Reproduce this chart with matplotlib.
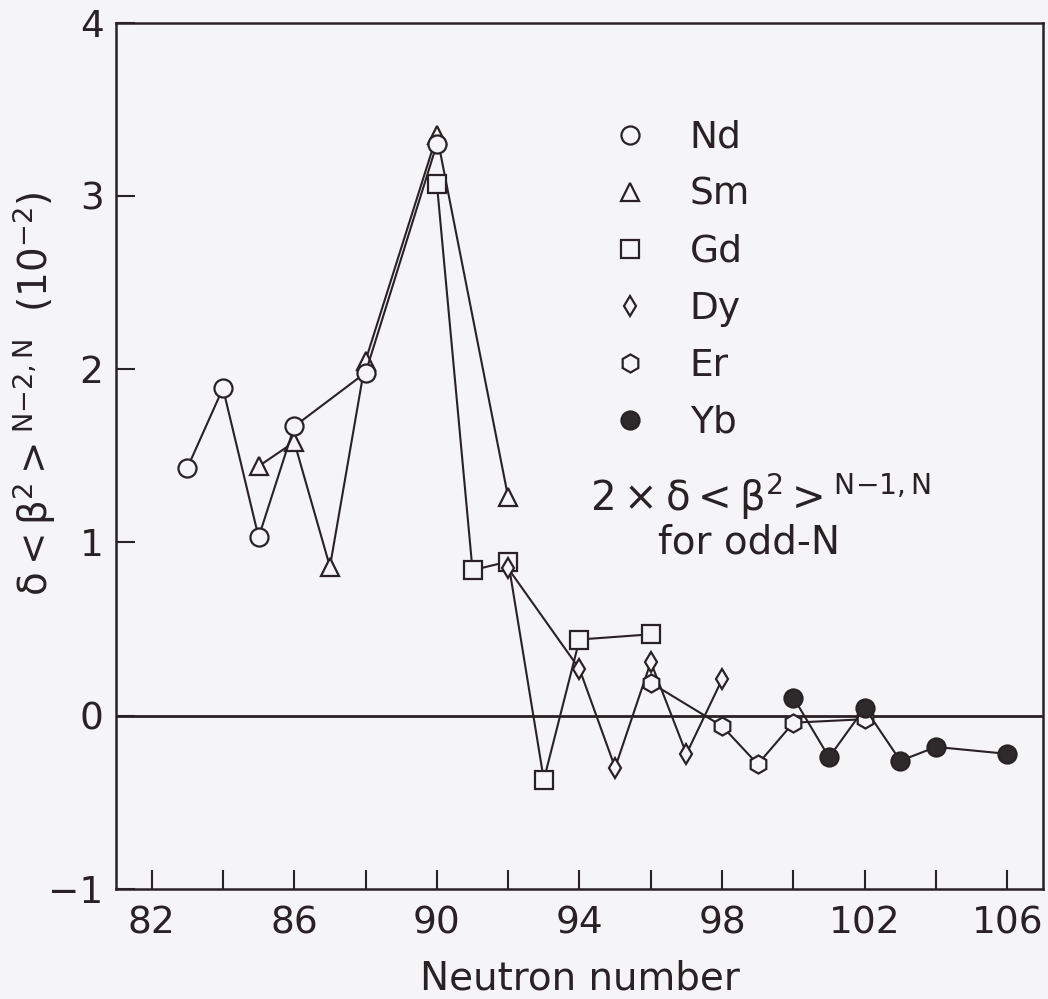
import matplotlib
matplotlib.use("Agg")
import matplotlib.pyplot as plt
from matplotlib.lines import Line2D

# odd-even staggering data (units of 1e-2)
nd_n = [83, 84, 85, 86, 88, 90]
nd_v = [1.43, 1.89, 1.03, 1.67, 1.98, 3.30]

sm_n = [85, 86, 87, 88, 90, 92]
sm_v = [1.44, 1.58, 0.86, 2.05, 3.35, 1.26]

gd_n = [90, 91, 92, 93, 94, 96]
gd_v = [3.07, 0.84, 0.89, -0.37, 0.44, 0.47]

dy_n = [92, 94, 95, 96, 97, 98]
dy_v = [0.85, 0.27, -0.30, 0.31, -0.22, 0.21]

er_n = [96, 98, 99, 100, 102]
er_v = [0.19, -0.06, -0.28, -0.04, -0.02]

yb_n = [100, 101, 102, 103, 104, 106]
yb_v = [0.105, -0.24, 0.045, -0.26, -0.18, -0.22]

x_ticks = list(range(82, 107, 2))
x_ticklabels = [str(n) if (n - 82) % 4 == 0 else "" for n in x_ticks]
y_ticks = [-1, 0, 1, 2, 3, 4]
y_ticklabels = ["\u22121", "0", "1", "2", "3", "4"]

ink = "#2a2125"
paper = "#f5f4f6"

plt.rcParams["font.family"] = ["DejaVu Sans"]
plt.rcParams["mathtext.fontset"] = "dejavusans"
plt.rcParams["mathtext.default"] = "rm"

fig = plt.figure(figsize=(10.48, 9.99), dpi=100, facecolor=paper)
ax = fig.add_axes([0.1107, 0.1101, 0.8845, 0.8672])
ax.set_facecolor(paper)

# marker, size, face colour (drawn in this order so overlaps look like the scan)
series = [
    ("Sm", sm_n, sm_v, "^", 13, paper),
    ("Nd", nd_n, nd_v, "o", 13, paper),
    ("Gd", gd_n, gd_v, "s", 13, paper),
    ("Dy", dy_n, dy_v, "d", 10.5, paper),
    ("Er", er_n, er_v, "h", 13, paper),
    ("Yb", yb_n, yb_v, "o", 13, "#2e2a2c"),
]

ax.axhline(0, color=ink, lw=2.0, zorder=1)
for i, (name, n, v, m, ms, fc) in enumerate(series):
    ax.plot(n, v, color=ink, lw=1.5, marker=m, ms=ms, mfc=fc, mec=ink,
            mew=1.6, zorder=3 + i)

ax.set_xlim(81, 107)
ax.set_ylim(-1, 4)
ax.set_xticks(x_ticks)
ax.set_xticklabels(x_ticklabels)
ax.set_yticks(y_ticks)
ax.set_yticklabels(y_ticklabels)
ax.tick_params(axis="both", direction="in", length=14, width=1.5, color=ink,
               labelsize=27, labelcolor=ink)
ax.tick_params(axis="x", pad=12)
ax.tick_params(axis="y", pad=9)
for sp in ax.spines.values():
    sp.set_linewidth(1.8)
    sp.set_color(ink)

ax.set_xlabel("Neutron number", fontsize=28, color=ink, labelpad=13)
ax.set_ylabel(r"$\delta<\beta^2>^{N{-}2,N}\ \ (10^{-2})$", fontsize=28, color=ink)
ax.yaxis.set_label_coords(-0.063, 0.572)

# legend (species markers)
labels = [s[0] for s in series]
order = ["Nd", "Sm", "Gd", "Dy", "Er", "Yb"]
handles = []
for name in order:
    s = series[labels.index(name)]
    handles.append(Line2D([], [], ls="none", marker=s[3], ms=s[4], mfc=s[5],
                          mec=ink, mew=1.6))
ax.legend(handles, order, loc="upper left", bbox_to_anchor=(0.534, 0.888),
          frameon=False, fontsize=27, handlelength=1.0, handletextpad=1.1,
          labelspacing=0.56, borderpad=0, borderaxespad=0, labelcolor=ink)

ax.text(0.511, 0.452, r"$2\times\delta<\beta^2>^{N{-}1,N}$", transform=ax.transAxes,
        fontsize=29, color=ink, ha="left", va="center")
ax.text(0.585, 0.400, "for odd-N", transform=ax.transAxes,
        fontsize=28, color=ink, ha="left", va="center")

fig.savefig("out.png", dpi=100, facecolor=paper)
